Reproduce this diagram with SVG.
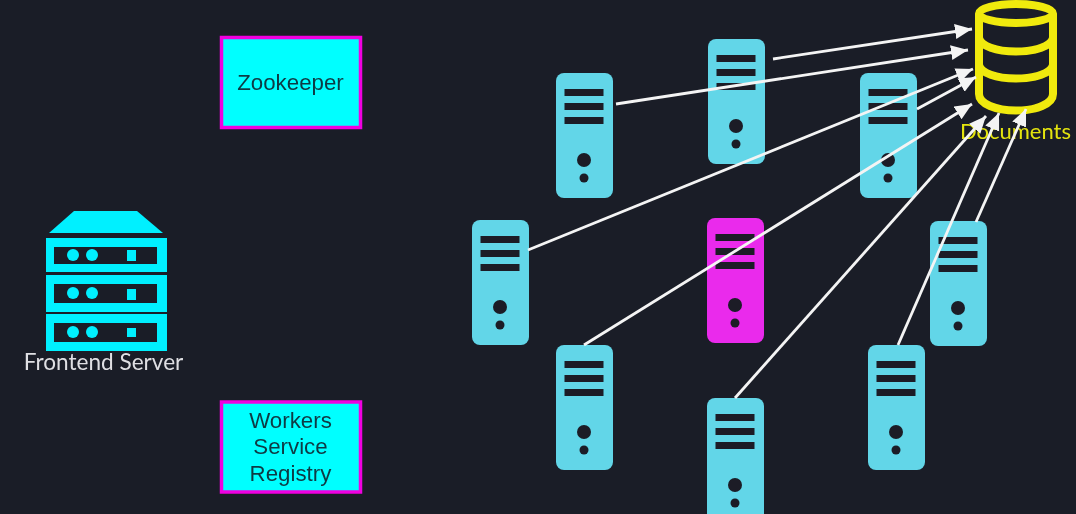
<svg xmlns="http://www.w3.org/2000/svg" width="1076" height="514" viewBox="0 0 1076 514">
<style>
.bg{fill:#1a1d27}
.srv{fill:#62d6e8}
.mag{fill:#ea2aec}
.hole{fill:#1a1d27}
.box{fill:#00ffff;stroke:#f000e0;stroke-width:3.5}
.boxt{font-family:"Liberation Sans",Arial,sans-serif;font-size:22.3px;fill:#0e3a44;text-anchor:middle}
.rack{fill:#00f0ff}
.lbl{font-family:Lato,"Noto Sans",sans-serif;font-size:22.6px}
.db{fill:none;stroke:#f0ea10;stroke-width:8}
.ln{stroke:#f4f4f4;stroke-width:2.8;fill:none;marker-end:url(#ah)}
</style>
<defs>
<filter id="soft" filterUnits="userSpaceOnUse" x="0" y="0" width="1076" height="514"><feGaussianBlur stdDeviation="0.45"/></filter>
<marker id="ah" markerUnits="userSpaceOnUse" markerWidth="18" markerHeight="16" refX="17" refY="7.500" orient="auto"><path d="M0 0L17 7.500L0 15Z" fill="#f4f4f4"/></marker>
<g id="srvHoles">
<rect class="hole" x="8.500" y="16" width="39" height="7"/>
<rect class="hole" x="8.500" y="30" width="39" height="7"/>
<rect class="hole" x="8.500" y="44" width="39" height="7"/>
<circle class="hole" cx="28" cy="87" r="7"/>
<circle class="hole" cx="28" cy="105" r="4.500"/>
</g>
<g id="srv"><rect class="srv" width="57" height="125" rx="8"/><use href="#srvHoles"/></g>
<g id="srvM"><rect class="mag" width="57" height="125" rx="8"/><use href="#srvHoles"/></g>
</defs>
<rect class="bg" width="1076" height="514"/>
<g filter="url(#soft)">
<g id="frontend-server">
<path class="rack" d="M49 233L74 211H137L163 233Z"/>
<path class="rack" fill-rule="evenodd" d="M46 238H167V272H46ZM54 247V264H157V247Z"/>
<path class="rack" fill-rule="evenodd" d="M46 275H167V312H46ZM54 284V303H157V284Z"/>
<path class="rack" fill-rule="evenodd" d="M46 314H167V351H46ZM54 323V342H157V323Z"/>
<circle class="rack" cx="73" cy="255" r="6"/><circle class="rack" cx="92" cy="255" r="6"/><rect class="rack" x="127" y="250" width="9" height="11"/>
<circle class="rack" cx="73" cy="293" r="6"/><circle class="rack" cx="92" cy="293" r="6"/><rect class="rack" x="127" y="289" width="9" height="11"/>
<circle class="rack" cx="73" cy="332" r="6"/><circle class="rack" cx="92" cy="332" r="6"/><rect class="rack" x="127" y="328" width="9" height="9"/>
<text class="lbl" x="103.500" y="370" text-anchor="middle" fill="#dfdfe3">Frontend Server</text>
</g>
<g id="zookeeper">
<rect class="box" x="221.500" y="37.500" width="139" height="90"/>
<text class="boxt" x="290.500" y="90">Zookeeper</text>
</g>
<g id="workers-service-registry">
<rect class="box" x="221.500" y="402" width="139" height="90"/>
<text class="boxt" x="290.500" y="428">Workers</text>
<text class="boxt" x="290.500" y="454">Service</text>
<text class="boxt" x="290.500" y="481">Registry</text>
</g>
<g id="server-1"><use href="#srv" x="556" y="73"/></g>
<g id="server-2"><use href="#srv" x="708" y="39"/></g>
<g id="server-3"><use href="#srv" x="860" y="73"/></g>
<g id="server-4"><use href="#srv" x="472" y="220"/></g>
<g id="server-5"><use href="#srvM" x="707" y="218"/></g>
<g id="server-6"><use href="#srv" x="930" y="221"/></g>
<g id="server-7"><use href="#srv" x="556" y="345"/></g>
<g id="server-8"><use href="#srv" x="707" y="398"/></g>
<g id="server-9"><use href="#srv" x="868" y="345"/></g>
<g id="documents">
<path class="db" d="M979 13.500V94C979 104 996 110.500 1016 110.500S1053 104 1053 94V13.500"/>
<ellipse class="db" cx="1016" cy="13.500" rx="37" ry="9.500"/>
<path class="db" d="M979 38C981 46 996 51.500 1016 51.500S1051 46 1053 38"/>
<path class="db" d="M979 65C981 73 996 78.500 1016 78.500S1051 73 1053 65"/>
<text class="lbl" x="1015.500" y="139" text-anchor="middle" fill="#e4e410" style="font-size:22px">Documents</text>
</g>
<g id="connectors">
<line class="ln" x1="773" y1="59" x2="972" y2="29"/>
<line class="ln" x1="616" y1="104" x2="968" y2="50"/>
<line class="ln" x1="528" y1="250" x2="973" y2="69"/>
<line class="ln" x1="917" y1="109" x2="976" y2="77"/>
<line class="ln" x1="584" y1="345" x2="972" y2="104"/>
<line class="ln" x1="735" y1="398" x2="986" y2="116"/>
<line class="ln" x1="898" y1="345" x2="999" y2="113"/>
<line class="ln" x1="976" y1="222" x2="1026" y2="109"/>
</g>
</g>
</svg>
